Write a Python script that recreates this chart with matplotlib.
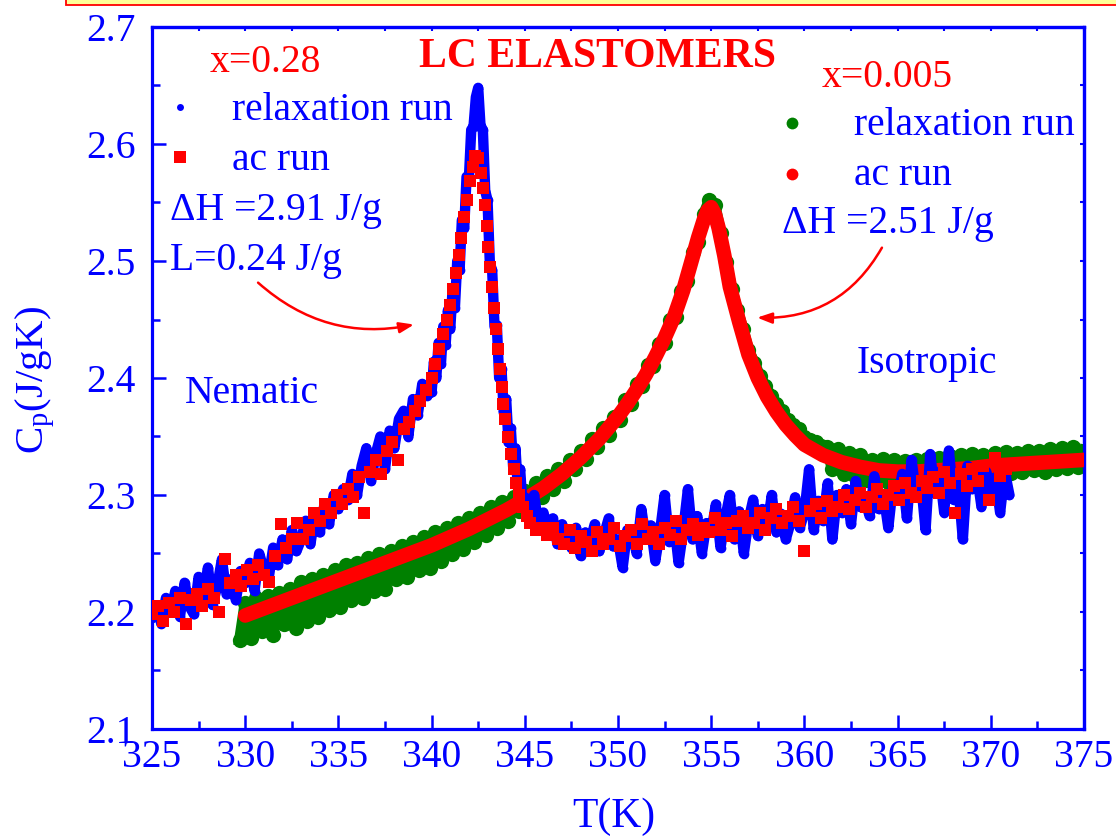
import numpy as np
import matplotlib
matplotlib.use('Agg')
import matplotlib.pyplot as plt
from matplotlib.patches import FancyArrowPatch, Rectangle
from matplotlib.ticker import MultipleLocator, NullFormatter

plt.rcParams['font.family'] = ['Liberation Serif', 'DejaVu Serif']
plt.rcParams['mathtext.fontset'] = 'custom'
plt.rcParams['mathtext.rm'] = 'Liberation Serif'
plt.rcParams['mathtext.it'] = 'Liberation Serif:italic'

BLUE = '#0000FF'
RED = '#FF0000'
GREEN = '#008000'

# ---------------- data ----------------
# x = 0.28, relaxation run
relax28_low_T0, relax28_low_dT = 325.0, 0.25
relax28_low_Cp = [
    2.195, 2.205, 2.190, 2.212, 2.200, 2.218, 2.196, 2.225, 2.205, 2.198,
    2.230, 2.212, 2.238, 2.206, 2.222, 2.245, 2.215, 2.228, 2.210, 2.235,
    2.225, 2.242, 2.218, 2.250, 2.236, 2.228, 2.255, 2.240, 2.262, 2.245,
    2.270, 2.252, 2.262, 2.278, 2.258, 2.285, 2.268, 2.292, 2.275, 2.300,
    2.288, 2.305, 2.296, 2.318, 2.300, 2.325, 2.340, 2.312, 2.335, 2.350,
    2.322, 2.355, 2.340, 2.365, 2.372, 2.350, 2.382, 2.368, 2.395, 2.385,
]
relax28_peak_T0, relax28_peak_dT = 340.0, 0.125
relax28_peak_Cp = [
    2.388, 2.414, 2.400, 2.430, 2.412, 2.444, 2.428, 2.458, 2.442, 2.475,
    2.460, 2.500, 2.492, 2.535, 2.528, 2.572, 2.570, 2.612, 2.615, 2.640,
    2.648, 2.615, 2.612, 2.560, 2.552, 2.498, 2.492, 2.444, 2.445, 2.400,
    2.408, 2.370, 2.382, 2.345, 2.357, 2.324, 2.340, 2.306, 2.322, 2.292,
]
relax28_high_T0, relax28_high_dT = 345.0, 0.25
relax28_high_Cp = [
    2.298, 2.288, 2.300, 2.272, 2.285, 2.268, 2.280, 2.258, 2.275, 2.262,
    2.255, 2.272, 2.248, 2.268, 2.260, 2.275, 2.252, 2.266, 2.280, 2.256,
    2.262, 2.238, 2.270, 2.270, 2.250, 2.288, 2.262, 2.274, 2.244, 2.268,
    2.300, 2.260, 2.278, 2.242, 2.270, 2.305, 2.262, 2.282, 2.250, 2.276,
    2.268, 2.292, 2.255, 2.280, 2.300, 2.262, 2.286, 2.250, 2.278, 2.296,
    2.265, 2.288, 2.272, 2.300, 2.268, 2.284, 2.262, 2.276, 2.298, 2.272,
    2.285, 2.322, 2.270, 2.295, 2.278, 2.310, 2.262, 2.300, 2.285, 2.305,
    2.275, 2.312, 2.290, 2.296, 2.282, 2.316, 2.288, 2.300, 2.272, 2.308,
    2.296, 2.318, 2.280, 2.330, 2.298, 2.312, 2.270, 2.335, 2.302, 2.320,
    2.285, 2.338, 2.296, 2.310, 2.262, 2.325, 2.305, 2.318, 2.290, 2.320,
    2.298, 2.315, 2.285, 2.320, 2.300,
]

# x = 0.28, ac run
ac28_low_T0, ac28_low_dT = 325.0, 0.3
ac28_low_Cp = [
    2.198, 2.205, 2.192, 2.208, 2.200, 2.212, 2.190, 2.210, 2.215, 2.205,
    2.220, 2.212, 2.200, 2.245, 2.225, 2.232, 2.222, 2.236, 2.228, 2.240,
    2.232, 2.226, 2.248, 2.275, 2.255, 2.262, 2.276, 2.262, 2.270, 2.285,
    2.278, 2.292, 2.285, 2.300, 2.292, 2.305, 2.298, 2.315, 2.285, 2.320,
    2.330, 2.318, 2.338, 2.345, 2.330, 2.356, 2.362, 2.372, 2.380, 2.390,
]
ac28_peak_T = [340.0, 340.2, 340.4, 340.6, 340.8, 341.0, 341.15, 341.3, 341.45,
               341.6, 341.75, 341.9, 342.05, 342.2, 342.35, 342.5, 342.65,
               342.75, 342.85, 342.95, 343.05, 343.15, 343.25, 343.35, 343.45,
               343.55, 343.65, 343.75, 343.85, 343.95, 344.1, 344.25, 344.4,
               344.55, 344.7, 344.9, 345.1, 345.3, 345.6]
ac28_peak_Cp = [2.400, 2.412, 2.425, 2.438, 2.450, 2.462, 2.476, 2.490, 2.505,
                2.520, 2.538, 2.552, 2.568, 2.580, 2.590, 2.588, 2.575,
                2.562, 2.548, 2.530, 2.512, 2.495, 2.478, 2.460, 2.442,
                2.425, 2.408, 2.392, 2.378, 2.365, 2.350, 2.335, 2.322,
                2.310, 2.300, 2.290, 2.282, 2.276, 2.270]
ac28_high_T0, ac28_high_dT = 345.9, 0.3
ac28_high_Cp = [
    2.272, 2.266, 2.272, 2.262, 2.258, 2.270, 2.255, 2.265, 2.260, 2.252,
    2.268, 2.258, 2.262, 2.272, 2.256, 2.265, 2.270, 2.258, 2.275, 2.262,
    2.268, 2.258, 2.272, 2.266, 2.278, 2.262, 2.270, 2.275, 2.266, 2.272,
    2.268, 2.280, 2.270, 2.276, 2.265, 2.278, 2.282, 2.272, 2.276, 2.285,
    2.270, 2.280, 2.288, 2.276, 2.282, 2.290, 2.278, 2.252, 2.286, 2.292,
    2.280, 2.295, 2.286, 2.290, 2.300, 2.288, 2.296, 2.302, 2.290, 2.298,
    2.305, 2.292, 2.300, 2.308, 2.296, 2.310, 2.302, 2.298, 2.312, 2.306,
    2.315, 2.302, 2.320, 2.310, 2.285, 2.318, 2.308, 2.322, 2.312, 2.325,
    2.296, 2.332, 2.316, 2.322,
]

# x = 0.005, relaxation run (start 329.7 K, step 0.3 K)
relax005_T0, relax005_dT = 329.7, 0.3
relax005_Cp = [
    2.176, 2.208, 2.178, 2.212, 2.184, 2.214, 2.180, 2.216, 2.190, 2.220,
    2.186, 2.226, 2.192, 2.228, 2.196, 2.232, 2.202, 2.236, 2.204, 2.240,
    2.210, 2.242, 2.212, 2.246, 2.218, 2.250, 2.220, 2.252, 2.228, 2.256,
    2.230, 2.260, 2.236, 2.264, 2.238, 2.268, 2.244, 2.272, 2.250, 2.276,
    2.254, 2.280, 2.260, 2.285, 2.266, 2.290, 2.272, 2.294, 2.278, 2.298,
    2.286, 2.303, 2.292, 2.310, 2.298, 2.316, 2.305, 2.322, 2.312, 2.330,
    2.322, 2.338, 2.331, 2.348, 2.341, 2.357, 2.351, 2.367, 2.364, 2.381,
    2.378, 2.395, 2.393, 2.411, 2.410, 2.429, 2.430, 2.450, 2.452, 2.474,
    2.483, 2.508, 2.516, 2.540, 2.552, 2.548, 2.524, 2.499, 2.476, 2.458,
    2.442, 2.424, 2.413, 2.402, 2.393, 2.385, 2.378, 2.372, 2.364, 2.360,
    2.356, 2.350, 2.347, 2.345, 2.342, 2.341, 2.322, 2.339, 2.318, 2.336,
    2.316, 2.334, 2.313, 2.330, 2.312, 2.331, 2.311, 2.330, 2.312, 2.329,
    2.310, 2.330, 2.313, 2.331, 2.314, 2.332, 2.315, 2.333, 2.316, 2.334,
    2.315, 2.335, 2.317, 2.334, 2.318, 2.336, 2.318, 2.337, 2.319, 2.336,
    2.320, 2.338, 2.321, 2.338, 2.320, 2.339, 2.322, 2.340, 2.323, 2.341,
    2.324, 2.338,
]

# x = 0.005, ac run
ac005_T = [330, 331, 332, 333, 334, 335, 336, 337, 338, 339, 340, 341, 342,
           343, 344, 345, 346, 347, 348, 349, 350, 350.5, 351, 351.5, 352,
           352.5, 353, 353.5, 354, 354.3, 354.6, 354.8, 355.0, 355.2, 355.4,
           355.7, 356, 356.5, 357, 357.5, 358, 358.5, 359, 359.5, 360, 361,
           362, 363, 364, 365, 366, 367, 368, 369, 370, 371, 372, 373, 374, 375]
ac005_Cp = [2.197, 2.203, 2.209, 2.215, 2.221, 2.227, 2.233, 2.239, 2.245,
            2.251, 2.257, 2.264, 2.271, 2.279, 2.287, 2.296, 2.306, 2.318,
            2.332, 2.348, 2.367, 2.378, 2.390, 2.403, 2.418, 2.434, 2.452,
            2.475, 2.503, 2.520, 2.535, 2.543, 2.546, 2.540, 2.528, 2.505,
            2.478, 2.448, 2.420, 2.400, 2.384, 2.371, 2.360, 2.351, 2.343,
            2.334, 2.328, 2.324, 2.321, 2.320, 2.320, 2.321, 2.322, 2.323,
            2.325, 2.326, 2.327, 2.328, 2.329, 2.330]

x_ticks = [325, 330, 335, 340, 345, 350, 355, 360, 365, 370, 375]
y_ticks = [2.1, 2.2, 2.3, 2.4, 2.5, 2.6, 2.7]

# ---------------- figure ----------------
W, H = 1116, 836
fig = plt.figure(figsize=(W / 100, H / 100), dpi=100)
fig.patch.set_facecolor('white')

# banner edge at top of the slide
fig.patches.append(Rectangle((66 / W, 1 - 4.5 / H), 1.2, 0.05,
                             transform=fig.transFigure, facecolor='#FFFF99',
                             edgecolor=RED, lw=1.3, zorder=0))

ax = fig.add_axes([152 / W, 1 - 729 / H, (1084 - 152) / W, (729 - 27) / H])
ax.set_xlim(325, 375)
ax.set_ylim(2.1, 2.7)

def grid(t0, dt, vals):
    return t0 + dt * np.arange(len(vals))

# x = 0.005 relaxation (green)
ax.plot(grid(relax005_T0, relax005_dT, relax005_Cp), relax005_Cp, '-o',
        color=GREEN, lw=8, ms=11, mew=0, zorder=2, solid_joinstyle='round')
# x = 0.005 ac (red line of dense points)
ax.plot(ac005_T, ac005_Cp, '-', color=RED, lw=10.5, zorder=3,
        solid_capstyle='round', solid_joinstyle='round')
# x = 0.28 relaxation (blue)
relax28_T = np.concatenate([grid(relax28_low_T0, relax28_low_dT, relax28_low_Cp),
                            grid(relax28_peak_T0, relax28_peak_dT, relax28_peak_Cp),
                            grid(relax28_high_T0, relax28_high_dT, relax28_high_Cp)])
relax28_Cp = np.concatenate([relax28_low_Cp, relax28_peak_Cp, relax28_high_Cp])
ax.plot(relax28_T, relax28_Cp, '-o',
        color=BLUE, lw=7.5, ms=7, mew=0, zorder=4, solid_joinstyle='round',
        solid_capstyle='round')
# x = 0.28 ac (red squares)
ac28_T = np.concatenate([grid(ac28_low_T0, ac28_low_dT, ac28_low_Cp),
                         ac28_peak_T,
                         grid(ac28_high_T0, ac28_high_dT, ac28_high_Cp)])
ac28_Cp = np.concatenate([ac28_low_Cp, ac28_peak_Cp, ac28_high_Cp])
ax.plot(ac28_T, ac28_Cp, 's', color=RED, ms=8, mew=0, zorder=5)

# axes styling
for s in ax.spines.values():
    s.set_color(BLUE)
    s.set_linewidth(2.3)
ax.set_xticks(x_ticks)
ax.set_yticks(y_ticks)
ax.xaxis.set_minor_locator(MultipleLocator(2.5))
ax.yaxis.set_minor_locator(MultipleLocator(0.05))
ax.set_xticklabels([str(v) for v in x_ticks])
ax.set_yticklabels([f'{v:.1f}' for v in y_ticks])
ax.tick_params(which='major', direction='in', length=10, width=1.8,
               colors=BLUE, labelsize=28.5)
ax.tick_params(which='minor', direction='in', length=6, width=1.8, colors=BLUE)
ax.tick_params(axis='x', which='major', pad=7)
ax.tick_params(axis='y', which='major', pad=12)

secx = ax.secondary_xaxis('top')
secx.xaxis.set_major_locator(MultipleLocator(2.5))
secx.xaxis.set_major_formatter(NullFormatter())
secx.tick_params(direction='in', length=3, width=1.5, colors=BLUE)
secx.spines['top'].set_color(BLUE)
secx.spines['top'].set_linewidth(2.3)
secy = ax.secondary_yaxis('right')
secy.yaxis.set_major_locator(MultipleLocator(0.05))
secy.yaxis.set_major_formatter(NullFormatter())
secy.tick_params(direction='in', length=3, width=1.5, colors=BLUE)
secy.spines['right'].set_color(BLUE)
secy.spines['right'].set_linewidth(2.3)

# axis labels
fig.text(614 / W, 1 - 827 / H, 'T(K)', ha='center', va='baseline',
         fontsize=30, color=BLUE)
fig.text(43 / W, 1 - 380 / H, r'C$_{\mathregular{p}}$(J/gK)', rotation=90,
         rotation_mode='anchor', ha='center', va='baseline', fontsize=29.5,
         color=BLUE)

# annotations
fs = 28.5
ax.text(348.9, 2.6661, 'LC ELASTOMERS', ha='center', va='baseline',
        fontsize=30, fontweight='bold', color=RED)
ax.text(328.11, 2.6616, 'x=0.28', ha='left', va='baseline', fontsize=fs, color=RED)
ax.text(360.94, 2.649, 'x=0.005', ha='left', va='baseline', fontsize=fs, color=RED)

ax.plot([326.5], [2.6315], 'o', color=BLUE, ms=5, mew=0)
ax.text(329.29, 2.6206, 'relaxation run', ha='left', va='baseline', fontsize=fs, color=BLUE)
ax.plot([326.5], [2.589], 's', color=RED, ms=8.5, mew=0)
ax.text(329.29, 2.578, 'ac run', ha='left', va='baseline', fontsize=fs, color=BLUE)
ax.text(325.95, 2.5353, '\u0394H =2.91 J/g', ha='left', va='baseline', fontsize=fs, color=BLUE)
ax.text(325.95, 2.4926, 'L=0.24 J/g', ha='left', va='baseline', fontsize=fs, color=BLUE)

ax.plot([359.33], [2.6181], 'o', color=GREEN, ms=8.5, mew=0)
ax.text(362.66, 2.6078, 'relaxation run', ha='left', va='baseline', fontsize=fs, color=BLUE)
ax.plot([359.33], [2.5745], 'o', color=RED, ms=8.5, mew=0)
ax.text(362.66, 2.5652, 'ac run', ha='left', va='baseline', fontsize=fs, color=BLUE)
ax.text(358.8, 2.5242, '\u0394H =2.51 J/g', ha='left', va='baseline', fontsize=fs, color=BLUE)

ax.text(326.77, 2.379, 'Nematic', ha='left', va='baseline', fontsize=fs, color=BLUE)
ax.text(362.82, 2.4047, 'Isotropic', ha='left', va='baseline', fontsize=fs, color=BLUE)

ax.add_patch(FancyArrowPatch((330.69, 2.4815), (339.06, 2.4457),
                             connectionstyle='arc3,rad=0.25',
                             arrowstyle='-|>,head_length=0.55,head_width=0.2',
                             mutation_scale=16, color=RED, lw=1.8,
                             shrinkA=0, shrinkB=0, zorder=6))
ax.add_patch(FancyArrowPatch((364.16, 2.5114), (357.46, 2.4516),
                             connectionstyle='arc3,rad=-0.3',
                             arrowstyle='-|>,head_length=0.55,head_width=0.2',
                             mutation_scale=16, color=RED, lw=1.8,
                             shrinkA=0, shrinkB=0, zorder=6))

fig.savefig('out.png', dpi=100)
